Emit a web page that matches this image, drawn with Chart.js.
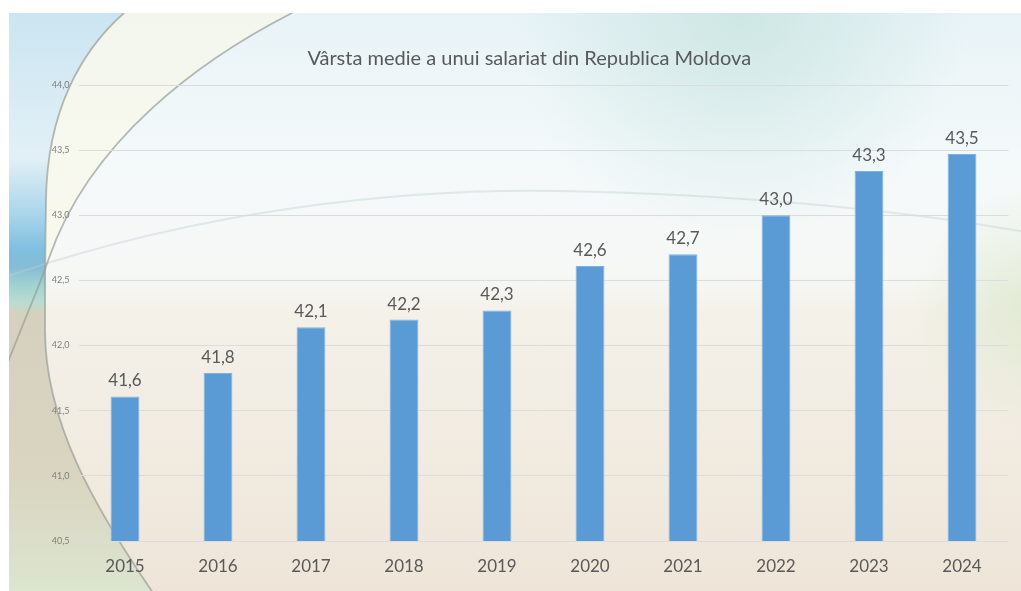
<!DOCTYPE html>
<html>
<head>
<meta charset="utf-8">
<script src="https://cdn.jsdelivr.net/npm/chart.js@4"></script>
<style>
  html, body { margin: 0; padding: 0; background: #fff; }
  #wrap { position: relative; width: 1021px; height: 591px; }
</style>
</head>
<body>
<div id="wrap"><canvas id="chart" width="1021" height="591"></canvas></div>
<script>
// ===== Data =====
const YEARS = ['2015', '2016', '2017', '2018', '2019', '2020', '2021', '2022', '2023', '2024'];
const AGE_VALUES = [41.61, 41.79, 42.14, 42.20, 42.27, 42.61, 42.70, 43.00, 43.34, 43.47];
const Y_TICKS = [40.5, 41.0, 41.5, 42.0, 42.5, 43.0, 43.5, 44.0];
const TITLE = 'Vârsta medie a unui salariat din Republica Moldova';

const FONT = 'Lato, "Open Sans", sans-serif';
const TEXT_GREY = '#595959';

const fmt = (v) => v.toFixed(1).replace('.', ',');

// ---- Background: pale slide picture with arcs ----
function outerArc(c) {
  c.moveTo(124, 13);
  c.bezierCurveTo(82, 50, 47, 110, 46, 200);
  c.bezierCurveTo(45, 260, 45, 300, 45, 330);
  c.bezierCurveTo(45, 420, 92, 505, 158, 600);
}

function innerArc(c) {
  c.moveTo(292, 13);
  c.bezierCurveTo(200, 60, 90, 140, 49, 258);
  c.bezierCurveTo(38, 290, 20, 330, 5, 370);
}

const backdrop = {
  id: 'backdrop',
  beforeDraw(chart) {
    const c = chart.ctx;
    const x0 = 9, y0 = 13, w = 1012, h = 578;
    c.save();
    c.beginPath();
    c.rect(x0, y0, w, h);
    c.clip();

    let g = c.createLinearGradient(0, y0, 0, y0 + h);
    g.addColorStop(0, '#e8f3f7');
    g.addColorStop(0.25, '#f4f9fa');
    g.addColorStop(0.45, '#f6f8f6');
    g.addColorStop(0.52, '#f4f1e9');
    g.addColorStop(1, '#eee5d8');
    c.fillStyle = g;
    c.fillRect(x0, y0, w, h);

    // teal-ish haze top-right
    g = c.createRadialGradient(740, 10, 0, 740, 10, 230);
    g.addColorStop(0, 'rgba(196,226,222,0.75)');
    g.addColorStop(1, 'rgba(196,226,222,0)');
    c.fillStyle = g;
    c.fillRect(x0, y0, w, h);

    // pale green haze lower right
    g = c.createRadialGradient(1030, 310, 0, 1030, 310, 120);
    g.addColorStop(0, 'rgba(220,232,205,0.8)');
    g.addColorStop(1, 'rgba(220,232,205,0)');
    c.fillStyle = g;
    c.fillRect(x0, y0, w, h);

    // area left of the outer arc
    c.save();
    c.beginPath();
    outerArc(c);
    c.lineTo(0, 600);
    c.lineTo(0, 0);
    c.closePath();
    c.clip();
    g = c.createLinearGradient(0, y0, 0, y0 + h);
    g.addColorStop(0, '#cbe5f1');
    g.addColorStop(0.25, '#e2f0f6');
    g.addColorStop(0.35, '#a9d4ea');
    g.addColorStop(0.41, '#7fbfe0');
    g.addColorStop(0.44, '#86bcd6');
    g.addColorStop(0.47, '#9fd2d0');
    g.addColorStop(0.5, '#b9dcd2');
    g.addColorStop(0.52, '#d6d1bf');
    g.addColorStop(0.8, '#d9d5c0');
    g.addColorStop(1, '#dce5cf');
    c.fillStyle = g;
    c.fillRect(0, 0, 200, 600);
    c.restore();

    // pale cream band between the two arcs
    c.save();
    c.beginPath();
    outerArc(c);
    c.lineTo(300, 600);
    c.lineTo(300, 0);
    c.closePath();
    c.clip();
    c.beginPath();
    innerArc(c);
    c.lineTo(0, 600);
    c.lineTo(0, 0);
    c.closePath();
    c.fillStyle = 'rgba(250,249,230,0.6)';
    c.fill();
    c.restore();

    // faint wide arc across the chart
    c.beginPath();
    c.moveTo(5, 277);
    c.bezierCurveTo(200, 210, 400, 188, 560, 191);
    c.bezierCurveTo(750, 195, 900, 210, 1025, 232);
    c.strokeStyle = 'rgba(190,205,212,0.4)';
    c.lineWidth = 2;
    c.stroke();

    c.strokeStyle = 'rgba(150,156,150,0.7)';
    c.lineWidth = 1.8;
    c.beginPath();
    outerArc(c);
    c.stroke();
    c.beginPath();
    innerArc(c);
    c.stroke();

    c.restore();
  }
};

// ---- Value labels above bars ----
const valueLabels = {
  id: 'valueLabels',
  afterDatasetsDraw(chart) {
    const c = chart.ctx;
    const meta = chart.getDatasetMeta(0);
    c.save();
    c.font = '17px ' + FONT;
    c.fillStyle = TEXT_GREY;
    c.textAlign = 'center';
    c.textBaseline = 'alphabetic';
    meta.data.forEach((bar, i) => {
      c.fillText(fmt(AGE_VALUES[i]), bar.x, bar.y - 10);
    });
    c.restore();
  }
};

new Chart(document.getElementById('chart'), {
  type: 'bar',
  data: {
    labels: YEARS,
    datasets: [{
      data: AGE_VALUES,
      backgroundColor: '#5b9bd5',
      borderColor: '#7fb1df',
      borderWidth: 1,
      barPercentage: 1,
      categoryPercentage: 0.31,
    }],
  },
  options: {
    responsive: false,
    animation: false,
    layout: { padding: { left: 50, right: 12.5, top: 47, bottom: 14 } },
    plugins: {
      legend: { display: false },
      tooltip: { enabled: false },
      title: {
        display: true,
        text: TITLE,
        color: TEXT_GREY,
        font: { family: FONT, size: 20, weight: 'normal' },
        padding: { top: 0, bottom: 14 },
      },
    },
    scales: {
      x: {
        grid: { display: false, drawTicks: false },
        border: { display: false },
        afterFit: (scale) => { scale.height = 36; },
        ticks: { color: TEXT_GREY, font: { family: FONT, size: 17 }, padding: 15 },
      },
      y: {
        min: 40.5,
        max: 44.0,
        afterBuildTicks: (scale) => { scale.ticks = Y_TICKS.map(v => ({ value: v })); },
        afterFit: (scale) => { scale.width = 28.5; },
        grid: { color: '#dcdcdc', drawTicks: false, lineWidth: 1 },
        border: { display: false },
        ticks: {
          color: '#7f7f7f',
          font: { family: FONT, size: 9 },
          padding: 9,
          callback: (v) => fmt(v),
        },
      },
    },
  },
  plugins: [backdrop, valueLabels],
});
</script>
</body>
</html>
